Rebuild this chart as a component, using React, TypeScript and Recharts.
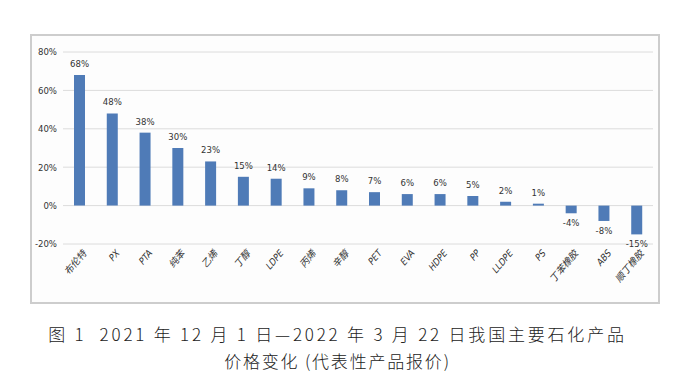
import { BarChart, Bar, XAxis, YAxis, CartesianGrid, LabelList } from 'recharts';

const products = [
  '布伦特', 'PX', 'PTA', '纯苯', '乙烯', '丁醇', 'LDPE', '丙烯', '辛醇',
  'PET', 'EVA', 'HDPE', 'PP', 'LLDPE', 'PS', '丁苯橡胶', 'ABS', '顺丁橡胶',
];
const changes = [68, 48, 38, 30, 23, 15, 14, 9, 8, 7, 6, 6, 5, 2, 1, -4, -8, -15];
const yTicks = [-20, 0, 20, 40, 60, 80];

const data = products.map((name, i) => ({ name, change: changes[i] }));

const labelFont = "'DejaVu Sans Condensed', 'Liberation Sans Narrow', 'Noto Sans CJK SC', sans-serif";

function CategoryTick({ x, y, payload }: any) {
  return (
    <g transform={`translate(${x},${y})`}>
      <text
        x={5}
        y={7}
        transform="rotate(-50) skewX(-12)"
        textAnchor="end"
        fontSize={9.5}
        fill="#333"
        fontFamily={labelFont}
      >
        {payload.value}
      </text>
    </g>
  );
}

function ValueLabel({ x, y, width, height, value }: any) {
  const top = Math.min(y, y + height);
  const bottom = Math.max(y, y + height);
  const ly = value < 0 ? bottom + 13 : top - 8;
  return (
    <text
      x={x + width / 2}
      y={ly}
      textAnchor="middle"
      fontSize={9.5}
      fill="#333"
      fontFamily={labelFont}
    >
      {value}%
    </text>
  );
}

export default function App() {
  return (
    <div style={{ position: 'absolute', left: 0, top: 0, width: 675, height: 389, background: '#fff' }}>
      {/* 图表外框 */}
      <div
        style={{
          position: 'absolute',
          left: 30,
          top: 34,
          width: 626,
          height: 266,
          border: '2px solid #cdcdcd',
          background: '#fdfdfd',
        }}
      >
        <BarChart
          width={626}
          height={266}
          data={data}
          margin={{ top: 16, right: 5, bottom: 0, left: 0 }}
        >
          <CartesianGrid vertical={false} stroke="#dcdcdc" />
          <XAxis
            dataKey="name"
            axisLine={false}
            tickLine={false}
            height={58}
            interval={0}
            tick={<CategoryTick />}
          />
          <YAxis
            domain={[-20, 80]}
            ticks={yTicks}
            width={31}
            axisLine={false}
            tickLine={false}
            tickSize={4}
            tickFormatter={(v: number) => `${v}%`}
            tick={{ fontSize: 9.5, fill: '#333', fontFamily: labelFont }}
          />
          <Bar dataKey="change" fill="#4f7bb7" barSize={11} isAnimationActive={false}>
            <LabelList dataKey="change" content={<ValueLabel />} />
          </Bar>
        </BarChart>
      </div>

      {/* 图题 */}
      <div
        style={{
          position: 'absolute',
          left: 0,
          top: 320,
          width: 675,
          textAlign: 'center',
          fontFamily: "'Noto Sans CJK SC', sans-serif",
          fontSize: 17,
          fontWeight: 300,
          lineHeight: '27px',
          color: '#222',
        }}
      >
        <div style={{ letterSpacing: 2.8 }}>图 1&nbsp;&nbsp;2021 年 12 月 1 日—2022 年 3 月 22 日我国主要石化产品</div>
        <div style={{ letterSpacing: 1.8 }}>价格变化&nbsp;(代表性产品报价)</div>
      </div>
    </div>
  );
}
